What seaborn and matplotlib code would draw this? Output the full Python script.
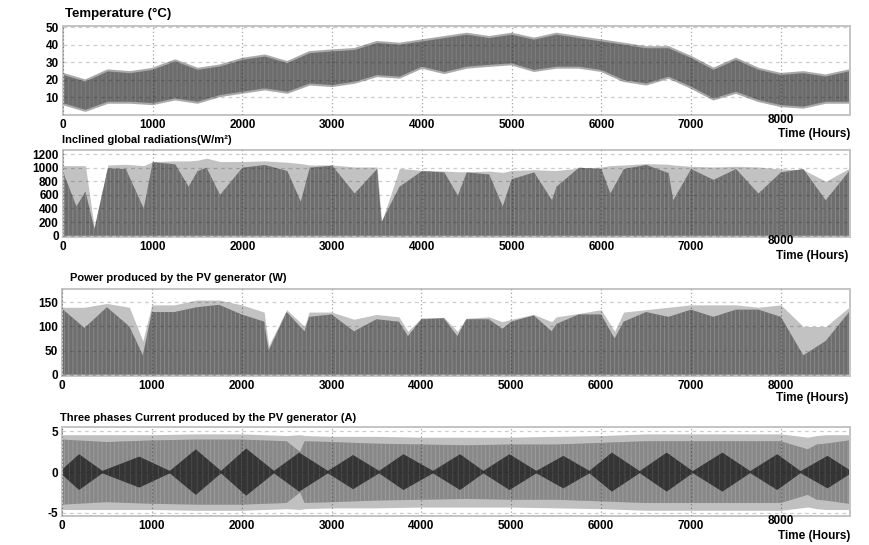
import numpy as np
import matplotlib.pyplot as plt
import matplotlib.transforms as mtransforms
import seaborn as sns

# Temperature (°C) - envelope of the hourly band
temp_hours = [0, 250, 500, 750, 1000, 1250, 1500, 1750, 2000, 2250, 2500, 2750,
              3000, 3250, 3500, 3750, 4000, 4250, 4500, 4750, 5000, 5250, 5500,
              5750, 6000, 6250, 6500, 6750, 7000, 7250, 7500, 7750, 8000, 8250,
              8500, 8760]
temp_top = [22.8, 19, 24.8, 23.8, 25.7, 30.5, 25.7, 27.6, 31.4, 33.3, 29.5, 35.2,
            36.2, 37, 41, 40, 41.9, 43.8, 45.7, 43.8, 45.7, 42.9, 45.7,
            43.8, 41.9, 40, 38, 38, 32.4, 25.7, 31.4, 25.7, 22.8, 23.8,
            21.9, 24.8]
temp_bottom = [6.8, 3, 7.6, 7.6, 6.8, 9.5, 7.6, 11.4, 13.3, 15.2, 13.3, 18,
               17.1, 19, 22.8, 21.9, 27.6, 24.5, 27.6, 28.6, 29.5, 25.7, 27.6,
               27.6, 25.7, 20, 18, 21.9, 16.2, 9.5, 13.3, 8.6, 5.7, 4.8,
               7.6, 7.6]

# Inclined global radiation (W/m²): clear-sky envelope (light) and actual (dark)
rad_hours = [0, 150, 250, 350, 500, 700, 900, 1000, 1250, 1400, 1500, 1600, 1750,
             2000, 2250, 2500, 2650, 2750, 3000, 3250, 3500, 3550, 3750, 4000,
             4250, 4400, 4500, 4750, 4900, 5000, 5250, 5450, 5500, 5750, 6000,
             6100, 6250, 6500, 6750, 6800, 7000, 7250, 7500, 7750, 8000, 8250,
             8500, 8760]
rad_light = [1030, 1030, 1030, 100, 1040, 1050, 1030, 1090, 1100, 1100, 1110, 1140, 1090,
             1090, 1100, 1080, 1060, 1040, 1040, 1010, 1010, 200, 990, 960,
             950, 940, 940, 950, 930, 960, 970, 960, 960, 990, 1010,
             1030, 1040, 1060, 1050, 1040, 1020, 1010, 1020, 1010, 980, 970,
             800, 990]
rad_dark = [940, 430, 650, 100, 990, 980, 400, 1080, 1050, 720, 950, 1000, 600,
            1000, 1040, 950, 500, 1000, 1030, 620, 980, 200, 720, 950,
            930, 590, 930, 900, 430, 830, 930, 520, 720, 1000, 980,
            620, 980, 1040, 920, 520, 980, 820, 980, 620, 930, 980,
            520, 950]

# Power produced by the PV generator (W)
pv_hours = [0, 250, 500, 750, 900, 1000, 1250, 1500, 1750, 2000, 2250, 2300, 2500,
            2700, 2750, 3000, 3250, 3500, 3750, 3850, 4000, 4250, 4400, 4500,
            4750, 4900, 5000, 5250, 5450, 5500, 5750, 6000, 6150, 6250, 6500,
            6750, 7000, 7250, 7500, 7750, 8000, 8250, 8500, 8760]
pv_light = [140, 140, 148, 140, 70, 145, 145, 155, 155, 145, 130, 60, 135,
            100, 130, 130, 115, 125, 120, 90, 118, 119, 90, 117,
            120, 110, 115, 125, 110, 120, 127, 135, 90, 130, 135,
            140, 145, 145, 145, 140, 145, 100, 100, 140]
pv_dark = [137, 97, 140, 100, 40, 130, 130, 140, 145, 125, 110, 50, 130,
           90, 120, 125, 90, 115, 110, 80, 115, 117, 80, 115,
           115, 95, 110, 123, 90, 105, 125, 125, 75, 110, 130,
           120, 135, 120, 135, 135, 120, 40, 70, 130]

# Three phases current (A): outer envelope, main band and the beating core
cur_hours = [0, 500, 1000, 1500, 2000, 2500, 2650, 2700, 3000, 3500, 4000, 4500,
             5000, 5500, 6000, 6500, 7000, 7500, 8000, 8300, 8400, 8500, 8760]
cur_light = [4.6, 4.6, 4.6, 4.7, 4.7, 4.5, 4.6, 4.5, 4.4, 4.4, 4.3, 4.3,
             4.3, 4.4, 4.5, 4.7, 4.7, 4.7, 4.7, 4.3, 4.5, 4.6, 4.6]
cur_mid = [4.0, 3.7, 3.9, 4.0, 4.0, 3.8, 2.5, 3.8, 3.7, 3.5, 3.4, 3.3,
           3.4, 3.4, 3.6, 3.8, 3.8, 3.8, 3.8, 2.8, 3.4, 3.5, 3.9]
core_hours = [0, 190, 450, 860, 1200, 1490, 1770, 2050, 2360, 2640, 2960, 3240,
              3530, 3800, 4130, 4430, 4690, 4980, 5280, 5580, 5870, 6120, 6430,
              6730, 7020, 7350, 7660, 7960, 8220, 8520, 8760]
core_amp = [0.3, 2.2, 0.15, 1.9, 0.15, 2.8, 0.15, 2.9, 0.15, 2.4, 0.15, 2.1,
            0.15, 2.2, 0.15, 2.2, 0.15, 2.2, 0.15, 2.0, 0.15, 2.4, 0.12,
            2.4, 0.12, 2.4, 0.12, 2.2, 0.12, 2.0, 0.3]

x_ticks = [0, 1000, 2000, 3000, 4000, 5000, 6000, 7000, 8000]

sns.set_theme(style='white')
plt.rcParams['font.family'] = ['Liberation Sans', 'DejaVu Sans']
plt.rcParams['hatch.linewidth'] = 0.7
plt.rcParams['axes.unicode_minus'] = False

W, H = 870, 545
fig = plt.figure(figsize=(8.7, 5.45), dpi=100)


def make_axes(left, top, bottom, right=850):
    return fig.add_axes([left / W, 1 - bottom / H, (right - left) / W, (bottom - top) / H])


def style_axes(ax, ylim, yticks, raise_last=True):
    ax.set_xlim(0, 8770)
    ax.set_ylim(*ylim)
    ax.set_xticks(x_ticks)
    ax.set_yticks(yticks)
    ax.set_axisbelow(False)
    ax.grid(axis='y', linestyle=(0, (3, 3)), color='k', alpha=0.22, lw=0.9)
    ax.grid(axis='x', linestyle=(0, (1, 2)), color='k', alpha=0.4, lw=0.9)
    ax.tick_params(length=0, labelsize=8.5, pad=3)
    for lab in ax.get_xticklabels() + ax.get_yticklabels():
        lab.set_fontweight('bold')
        lab.set_color('black')
    if raise_last:
        # the "8000" label sits a little higher, above the axis title
        lab = ax.get_xticklabels()[-1]
        shift = mtransforms.ScaledTranslation(0, 4 / 72, fig.dpi_scale_trans)
        lab.set_transform(lab.get_transform() + shift)
    for sp in ax.spines.values():
        sp.set_color('#c4c4c4')
        sp.set_linewidth(1.4)
    ax.set_xlabel('')
    ax.set_ylabel('')


def label(x, y, text, size=8.5, ha='left'):
    fig.text(x / W, 1 - y / H, text, fontsize=size, fontweight='bold',
             ha=ha, va='center', color='black')


# 1) temperature
ax1 = make_axes(63, 25.5, 115)
sns.lineplot(x=temp_hours, y=temp_top, ax=ax1, color='#a9a9a9', lw=3, zorder=1)
sns.lineplot(x=temp_hours, y=temp_bottom, ax=ax1, color='#a9a9a9', lw=3, zorder=1)
ax1.fill_between(temp_hours, temp_bottom, temp_top, color='#6c6c6c', lw=0,
                 hatch='||||', edgecolor='#7e7e7e', zorder=1.2)
style_axes(ax1, (0, 51), [10, 20, 30, 40, 50])
label(65, 14, 'Temperature (°C)', size=9.5)
label(850, 134, 'Time (Hours)', ha='right')

# 2) inclined global radiation
ax2 = make_axes(63, 150, 236.7)
ax2.fill_between(rad_hours, 0, rad_light, color='#c2c2c2', lw=0, zorder=1)
ax2.fill_between(rad_hours, 0, rad_dark, color='#6e6e6e', lw=0,
                 hatch='||||', edgecolor='#8a8a8a', zorder=1.2)
style_axes(ax2, (-15, 1260), [0, 200, 400, 600, 800, 1000, 1200])
label(62, 140, 'Inclined global radiations(W/m²)', size=8)
label(848, 256, 'Time (Hours)', ha='right')

# 3) PV power
ax3 = make_axes(62, 289, 376)
ax3.fill_between(pv_hours, 0, pv_light, color='#c2c2c2', lw=0, zorder=1)
ax3.fill_between(pv_hours, 0, pv_dark, color='#6e6e6e', lw=0,
                 hatch='||||', edgecolor='#8a8a8a', zorder=1.2)
style_axes(ax3, (-3, 178), [0, 50, 100, 150], raise_last=False)
label(70, 278, 'Power produced by the PV generator (W)', size=8)
label(848, 398, 'Time (Hours)', ha='right')

# 4) three phases current
ax4 = make_axes(62, 427, 516)
cl = np.array(cur_light)
cm = np.array(cur_mid)
ca = np.array(core_amp)
ax4.fill_between(cur_hours, -cl, cl, color='#c0c0c0', lw=0, zorder=1)
ax4.fill_between(cur_hours, -cm, cm, color='#888888', lw=0,
                 hatch='||||', edgecolor='#9c9c9c', zorder=1.1)
ax4.fill_between(core_hours, -ca, ca, color='#353535', lw=0,
                 hatch='|||', edgecolor='#4a4a4a', zorder=1.2)
style_axes(ax4, (-5.4, 5.55), [-5, 0, 5])
label(60, 418, 'Three phases Current produced by the PV generator (A)', size=8)
label(850, 536, 'Time (Hours)', ha='right')

fig.savefig('out.png', dpi=100)
